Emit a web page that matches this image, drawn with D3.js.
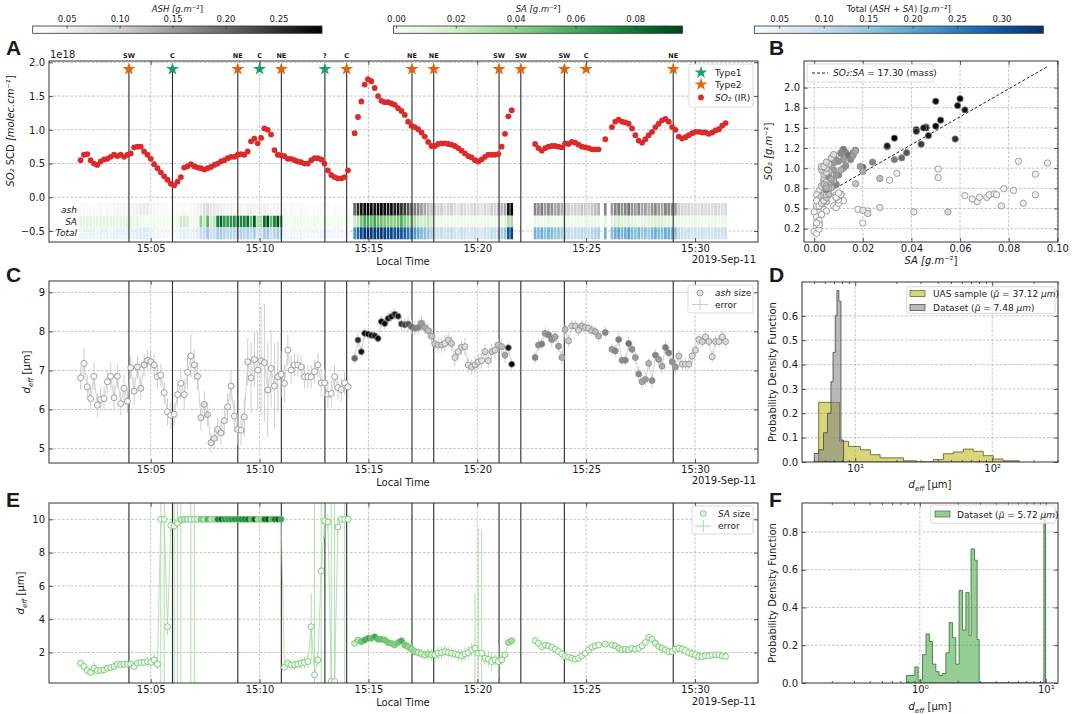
<!DOCTYPE html>
<html><head><meta charset="utf-8">
<script src="https://d3js.org/d3.v7.min.js"></script>
<style>
html,body{margin:0;padding:0;background:#fff;}
svg text{font-family:"DejaVu Sans",sans-serif;fill:#1a1a1a;}
</style></head>
<body>
<svg id="fig" width="1072" height="714" xmlns="http://www.w3.org/2000/svg"></svg>
<script>
// ================= DATA =================
const sampleStartMin = 1.78;    // first sample, minutes after 15:00 local time
const sampleStepMin = 0.1535;   // sampling interval in minutes
const nSamples = 194;
const segStart = [0, 82, 136, 157, 159];   // sample index where each continuous segment begins

// SO2 slant column density (1e18 molec cm-2)
const so2Segs = [
 [0.55,0.63,0.64,0.55,0.50,0.48,0.53,0.56,0.57,0.60,0.63,0.61,0.63,0.60,0.63,0.65,0.74,0.75,0.75,0.68,
  0.63,0.57,0.49,0.43,0.37,0.31,0.26,0.20,0.18,0.23,0.30,0.44,0.46,0.49,0.46,0.44,0.43,0.41,0.43,0.45,
  0.48,0.50,0.53,0.55,0.58,0.60,0.60,0.63,0.64,0.63,0.68,0.83,0.87,0.80,0.88,1.02,1.00,0.93,0.70,0.63,
  0.62,0.61,0.57,0.57,0.55,0.53,0.52,0.50,0.50,0.55,0.58,0.58,0.56,0.50,0.40,0.33,0.30,0.28,0.28,0.30,0.40],
 [0.95,1.19,1.42,1.67,1.75,1.72,1.62,1.50,1.43,1.41,1.41,1.39,1.37,1.32,1.28,1.22,1.12,1.06,1.04,1.01,
  0.96,0.90,0.82,0.76,0.76,0.79,0.80,0.80,0.79,0.78,0.76,0.73,0.69,0.65,0.61,0.59,0.55,0.53,0.56,0.60,
  0.63,0.63,0.63,0.64,0.75,0.94,1.20,1.29],
 [0.79,0.73,0.69,0.73,0.75,0.76,0.76,0.75,0.74,0.80,0.79,0.82,0.81,0.78,0.75,0.74,0.73,0.71,0.71,0.71],
 [0.86],
 [1.04,1.12,1.15,1.12,1.11,1.09,1.02,0.92,0.84,0.81,0.86,0.92,0.97,1.04,1.09,1.14,1.16,1.12,1.04,1.00,
  0.90,0.87,0.89,0.92,0.95,0.97,0.97,0.96,0.96,0.94,0.96,0.99,1.01,1.06,1.10]
];
// ash mass load (g m-2)
const ashLoadSegs = [
 [0.030,0.035,0.030,0.028,0.032,0.030,0.035,0.030,0.033,0.030,0.035,0.040,0.035,0.040,0.035,0.040,0.045,0.050,0.060,0.065,
  0.060,0.050,0.040,0.035,0.030,0.030,0.028,0.025,0.025,0.030,0.030,0.035,0.030,0.035,0.040,0.045,0.060,0.075,0.085,0.070,
  0.065,0.060,0.055,0.050,0.045,0.050,0.040,0.045,0.050,0.040,0.045,0.050,0.045,0.040,0.050,0.050,0.045,0.040,0.040,0.045,
  0.040,0.035,0.030,0.035,0.030,0.030,0.035,0.030,0.030,0.025,0.030,0.030,0.035,0.030,0.030,0.025,0.030,0.030,0.030,0.025,0.030],
 [0.20,0.25,0.27,0.28,0.29,0.28,0.27,0.28,0.29,0.28,0.27,0.28,0.26,0.27,0.25,0.24,0.22,0.20,0.18,0.17,
  0.15,0.14,0.12,0.11,0.10,0.09,0.10,0.08,0.09,0.10,0.08,0.07,0.09,0.08,0.07,0.08,0.09,0.08,0.07,0.09,
  0.08,0.10,0.09,0.11,0.12,0.14,0.27,0.29],
 [0.17,0.16,0.18,0.15,0.17,0.16,0.14,0.15,0.13,0.12,0.10,0.09,0.10,0.09,0.11,0.10,0.09,0.11,0.12,0.13],
 [0.17],
 [0.15,0.17,0.18,0.16,0.17,0.19,0.16,0.15,0.17,0.14,0.15,0.13,0.16,0.17,0.15,0.14,0.18,0.17,0.16,0.15,
  0.10,0.09,0.085,0.09,0.08,0.085,0.08,0.09,0.08,0.085,0.08,0.09,0.085,0.08,0.085]
];
// sulphate aerosol (SA) mass load (g m-2)
const saLoadSegs = [
 [0.010,0.009,0.011,0.010,0.008,0.009,0.010,0.012,0.010,0.009,0.011,0.010,0.010,0.009,0.011,0.010,0.008,0.009,0.004,0.002,
  0.001,0.002,0.001,0.000,0.001,0.002,0.001,0.000,0.001,0.002,0.020,0.022,0.018,0.003,0.004,0.005,0.041,0.022,0.055,0.020,
  0.027,0.077,0.086,0.067,0.065,0.068,0.071,0.072,0.074,0.075,0.082,0.051,0.091,0.031,0.034,0.084,0.096,0.051,0.078,0.091,
  0.062,0.004,0.003,0.002,0.003,0.002,0.003,0.002,0.001,0.002,0.003,0.002,0.001,0.002,0.003,0.002,0.001,0.002,0.002,0.001,0.003],
 [0.020,0.030,0.046,0.059,0.060,0.050,0.062,0.052,0.050,0.046,0.045,0.042,0.042,0.047,0.058,0.044,0.038,0.036,0.033,0.024,
  0.019,0.020,0.027,0.017,0.008,0.006,0.005,0.004,0.006,0.005,0.004,0.003,0.005,0.004,0.003,0.004,0.005,0.003,0.004,0.005,
  0.006,0.004,0.005,0.006,0.008,0.012,0.030,0.033],
 [0.008,0.006,0.005,0.007,0.009,0.006,0.005,0.004,0.006,0.008,0.005,0.004,0.006,0.005,0.004,0.006,0.005,0.007,0.006,0.005],
 [0.010],
 [0.012,0.016,0.017,0.013,0.011,0.014,0.010,0.008,0.006,0.007,0.009,0.011,0.013,0.015,0.016,0.017,0.012,0.011,0.009,0.008,
  0.006,0.004,0.005,0.003,0.004,0.006,0.005,0.004,0.003,0.005,0.004,0.006,0.005,0.007,0.008]
];
// ash effective diameter (um) and its error
const ashSizeSegs = [
 [6.81,7.18,6.58,6.28,6.85,6.11,6.26,6.28,6.71,6.85,6.30,6.85,6.15,6.54,6.21,7.07,6.47,7.09,6.54,7.14,
  7.26,7.22,7.14,6.84,6.88,6.43,5.94,5.85,5.88,6.38,6.67,6.38,6.95,7.37,7.14,6.85,5.79,6.13,5.87,5.15,
  5.26,5.49,5.40,5.71,6.07,6.60,5.83,5.49,5.47,5.81,7.22,6.81,7.28,7.01,7.25,7.20,6.50,7.05,6.60,6.84,
  6.90,6.67,7.52,7.01,7.14,7.14,7.09,6.84,6.84,6.84,6.97,7.14,6.68,6.68,6.39,6.41,6.84,6.56,6.51,6.68,6.58],
 [7.31,7.78,7.48,7.95,7.93,7.90,7.89,7.82,8.25,8.20,8.33,8.38,8.44,8.39,8.19,8.17,8.19,8.12,8.08,8.10,
  8.21,8.10,8.02,7.88,7.68,7.65,7.65,7.69,7.78,7.69,7.33,7.48,7.59,7.61,7.14,7.09,7.14,7.22,7.25,7.48,
  7.25,7.48,7.52,7.65,7.61,7.39,7.58,7.16],
 [7.33,7.65,7.68,7.95,7.91,7.79,7.86,7.62,7.33,8.05,7.76,8.14,8.14,8.03,8.14,8.10,8.08,8.02,7.99,7.88],
 [7.97],
 [7.54,7.50,7.79,7.26,7.26,7.69,7.54,7.33,6.91,6.71,6.77,7.18,6.74,7.39,7.28,7.11,7.59,7.45,7.22,7.09,
  7.37,7.16,7.16,7.16,7.37,7.52,7.79,7.74,7.86,7.74,7.35,7.74,7.74,7.86,7.74]
];
const ashErrSegs = [
 [0.30,0.40,0.30,0.30,0.35,0.30,0.30,0.30,0.30,0.35,0.35,0.30,0.30,0.35,0.30,0.30,0.35,0.30,0.30,0.30,
  0.25,0.25,0.30,0.30,0.30,0.30,0.35,0.35,0.30,0.30,0.40,0.40,0.45,0.55,0.40,0.35,0.35,0.35,0.30,0.25,
  0.25,0.30,0.30,0.35,0.35,0.40,0.40,0.40,0.40,0.50,0.60,0.90,0.70,1.00,1.40,1.50,1.20,1.00,1.10,0.90,
  0.60,0.50,0.40,0.35,0.30,0.30,0.30,0.30,0.30,0.30,0.30,0.30,0.35,0.35,0.35,0.35,0.30,0.30,0.30,0.30,0.30],
 [0.15,0.18,0.15,0.15,0.12,0.12,0.12,0.12,0.15,0.15,0.15,0.15,0.15,0.15,0.18,0.18,0.20,0.18,0.18,0.20,
  0.20,0.18,0.20,0.20,0.22,0.20,0.20,0.22,0.20,0.20,0.22,0.20,0.20,0.22,0.20,0.20,0.22,0.20,0.20,0.20,
  0.18,0.20,0.20,0.18,0.20,0.20,0.15,0.15],
 [0.15,0.15,0.15,0.15,0.15,0.18,0.15,0.15,0.18,0.15,0.15,0.15,0.15,0.15,0.15,0.15,0.15,0.15,0.15,0.15],
 [0.15],
 [0.15,0.15,0.18,0.15,0.15,0.18,0.15,0.15,0.18,0.18,0.18,0.15,0.18,0.15,0.15,0.18,0.15,0.15,0.15,0.18,
  0.15,0.15,0.15,0.15,0.18,0.15,0.15,0.15,0.18,0.15,0.15,0.15,0.15,0.15,0.15]
];
// SA effective diameter (um) and its error
const saSizeSegs = [
 [1.36,1.16,0.92,0.80,1.06,0.92,0.92,0.96,1.06,1.10,1.16,1.30,1.26,1.30,1.30,1.30,1.16,1.36,1.40,1.40,
  1.46,1.42,1.56,1.30,10.0,10.0,3.55,9.64,9.60,9.78,9.98,10.0,10.0,10.0,10.0,10.0,10.0,10.0,10.0,10.0,
  10.0,10.0,10.0,10.0,10.0,10.0,10.0,10.0,10.0,10.0,10.0,10.0,10.0,10.0,10.0,10.0,10.0,10.0,10.0,10.0,
  10.0,1.12,1.36,1.26,1.26,1.30,1.36,1.40,1.46,3.55,0.66,1.56,6.90,9.90,9.84,0.26,0.26,9.54,10.0,10.0,10.0],
 [2.55,2.75,2.65,2.75,2.85,2.85,2.95,2.79,2.79,2.75,2.60,2.55,2.45,2.60,2.71,2.45,2.35,2.20,2.06,2.00,
  1.92,1.86,1.92,1.86,1.86,1.96,2.00,2.06,2.00,1.96,1.92,1.86,1.80,1.92,2.00,2.16,2.26,1.96,1.96,1.66,
  1.60,1.46,1.56,1.46,1.56,1.86,2.60,2.71],
 [2.71,2.55,2.35,2.45,2.40,2.32,2.20,2.06,1.92,1.76,1.72,1.66,1.60,1.66,1.80,1.96,2.16,2.32,2.40,2.45],
 [2.50],
 [2.45,2.40,2.26,2.16,2.20,2.16,2.26,2.20,2.26,2.40,2.60,2.91,2.79,2.55,2.35,2.26,2.16,2.06,2.06,2.20,
  2.26,2.20,2.12,2.00,1.92,1.86,1.76,1.76,1.80,1.80,1.86,1.86,1.86,1.80,1.76]
];
const saErrSegs = [
 [0.15,0.15,0.12,0.12,0.40,0.12,0.12,0.12,0.12,0.12,0.12,0.12,0.12,0.12,0.12,0.15,0.15,0.15,0.20,0.20,
  0.30,0.30,0.35,0.30,20,20,0.50,0.30,20,20,20,0.20,0.20,20,20,0.05,0.05,0.05,0.05,0.05,
  0.05,0.05,0.05,0.05,0.05,0.05,0.05,0.05,0.05,0.05,0.05,0.05,0.05,0.05,0.05,0.05,0.05,0.05,0.05,0.05,
  0.05,0.20,0.25,0.25,0.30,0.30,0.35,0.35,0.40,2.00,20,0.40,20,1.00,0.50,20,20,0.50,0.10,20,0.10],
 [0.10,0.10,0.10,0.10,0.10,0.10,0.10,0.10,0.10,0.10,0.10,0.10,0.10,0.10,0.10,0.25,0.30,0.30,0.30,0.30,
  0.30,0.30,0.35,0.35,0.35,0.40,0.40,0.35,0.35,0.30,0.30,0.35,0.35,0.40,0.40,0.40,3.30,7.50,7.40,0.40,
  0.50,0.60,0.40,1.00,0.30,0.20,0.10,0.10],
 [0.10,0.10,0.10,0.10,0.10,0.10,0.10,0.10,0.10,0.10,0.10,0.10,0.10,0.10,0.10,0.10,0.10,0.10,0.10,0.10],
 [0.10],
 [0.10,0.10,0.10,0.10,0.10,0.10,0.10,0.10,0.10,0.10,0.10,0.10,0.10,0.10,0.10,0.10,0.10,0.10,0.10,0.30,
  0.30,0.30,0.30,0.30,0.30,0.30,0.30,0.15,0.15,0.15,0.15,0.15,0.15,0.15,0.15]
];

// events (minutes after 15:00)
const eventMin = [4,6,9,10,11,13,14,17,18,21,22,24,25,29];
const eventLabel = ["SW","C","NE","C","NE","?","C","NE","NE","SW","SW","SW","C","NE"];
const eventType = [2,1,2,1,2,1,2,2,2,2,2,2,2,2];
const eventHasLine = [1,1,1,0,1,1,1,1,1,1,1,1,0,1];
const eventStarLevel = 1.9;

const timeTicks = [5,10,15,20,25,30];
const timeTickLabels = ["15:05","15:10","15:15","15:20","15:25","15:30"];

// scatter B
const so2MassPerSCD = 1.0639;   // g m-2 per 1e18 molec cm-2 of SO2
const fitSlope = 17.30, fitIntercept = 0.60;
const bXTicks = [0,0.02,0.04,0.06,0.08,0.10];
const bXTickLabels = ["0.00","0.02","0.04","0.06","0.08","0.10"];
const bYTicks = [0.25,0.5,0.75,1.0,1.25,1.5,1.75,2.0];
const bYTickLabels = ["0.2","0.5","0.8","1.0","1.2","1.5","1.8","2.0"];

// histograms D
const uasEdges = [5.41,7.69,8.94,10.9,12.9,15.2,22.5,28.1,37.1,44.0,52.0,61.5,72.8,86.0,101.6,120,158];
const uasPdf   = [0.245,0.085,0.064,0.050,0.030,0.017,0.005,0,0.010,0.034,0.041,0.053,0.044,0.026,0.012,0.005];
const ashDsEdges = [5.03,5.41,5.87,6.28,6.65,6.89,7.15,7.36,7.60,7.87,8.22];
const ashDsPdf   = [0.035,0.05,0.12,0.20,0.33,0.45,0.60,0.704,0.66,0.09];
// histogram F
const saDsEdges = [0.784,0.912,0.970,1.05,1.12,1.19,1.26,1.34,1.42,1.51,1.61,1.71,1.82,1.93,2.05,2.18,2.32,2.46,2.55,2.72,2.85,2.96,9.65,9.95];
const saDsPdf   = [0.04,0.085,0.015,0.15,0.26,0.22,0.10,0.06,0.04,0.05,0.16,0.32,0.24,0.10,0.49,0.28,0.48,0.25,0.71,0.65,0.23,0,0.907];

// colour bars
const ashCbTicks = [0.05,0.10,0.15,0.20,0.25];
const saCbTicks = [0.00,0.02,0.04,0.06,0.08];
const totCbTicks = [0.05,0.10,0.15,0.20,0.25,0.30];
const ashDom = [0.018,0.291], saDom = [-0.0008,0.0958], totDom = [0.022,0.347];

// ================= BUILD =================
const svg = d3.select("#fig");
const defs = svg.append("defs");
const expand = segs => { const a = new Array(nSamples).fill(null); segs.forEach((s,k)=>s.forEach((v,j)=>{a[segStart[k]+j]=v;})); return a; };
const so2 = expand(so2Segs), ashLoad = expand(ashLoadSegs), saLoad = expand(saLoadSegs);
const ashSize = expand(ashSizeSegs), ashErr = expand(ashErrSegs), saSize = expand(saSizeSegs), saErr = expand(saErrSegs);
const tMin = d3.range(nSamples).map(i => sampleStartMin + i*sampleStepMin);
const idx = d3.range(nSamples).filter(i => so2[i] != null);

const cAsh = d3.scaleSequential(d3.interpolateGreys).domain(ashDom).clamp(true);
const cSA = d3.scaleSequential(d3.interpolateGreens).domain(saDom).clamp(true);
const cTot = d3.scaleSequential(d3.interpolateBlues).domain(totDom).clamp(true);

const PA={l:49,r:758,t:61,b:242}, PB={l:804,r:1058,t:61,b:242}, PC={l:49,r:758,t:281,b:463},
      PD={l:802,r:1058,t:282,b:462}, PE={l:49,r:758,t:503,b:683}, PF={l:802,r:1058,t:503,b:683};
const xT = d3.scaleLinear().domain([0.328,32.894]).range([PA.l,PA.r]);
const yA = d3.scaleLinear().domain([-0.663,2.02]).range([PA.b,PA.t]);
const xB = d3.scaleLinear().domain([-0.0042,0.1003]).range([PB.l,PB.r]);
const yB = d3.scaleLinear().domain([0.084,2.33]).range([PB.b,PB.t]);
const yC = d3.scaleLinear().domain([4.63,9.29]).range([PC.b,PC.t]);
const xD = d3.scaleLog().domain([4.09,302]).range([PD.l,PD.r]);
const yD = d3.scaleLinear().domain([0,0.739]).range([PD.b,PD.t]);
const yE = d3.scaleLinear().domain([0.17,10.98]).range([PE.b,PE.t]);
const xF = d3.scaleLog().domain([0.116,12.5]).range([PF.l,PF.r]);
const yF = d3.scaleLinear().domain([0,0.953]).range([PF.b,PF.t]);

function clip(id, P){ defs.append("clipPath").attr("id",id).append("rect").attr("x",P.l).attr("y",P.t).attr("width",P.r-P.l).attr("height",P.b-P.t); }
clip("cA",PA); clip("cB",PB); clip("cC",PC); clip("cD",PD); clip("cE",PE); clip("cF",PF);

function grid(P, xs, xt, ys, yt){
  const g = svg.append("g").attr("stroke","#b4b4b4").attr("stroke-width",0.8).attr("stroke-dasharray","2.6,1.7");
  xt.forEach(v=>g.append("line").attr("x1",xs(v)).attr("x2",xs(v)).attr("y1",P.t).attr("y2",P.b));
  yt.forEach(v=>g.append("line").attr("y1",ys(v)).attr("y2",ys(v)).attr("x1",P.l).attr("x2",P.r));
}
function styleAxis(a){ a.select(".domain").remove(); a.selectAll("line").attr("stroke","#333").attr("stroke-width",0.8);
  a.selectAll("text").attr("font-size",10).attr("fill","#1a1a1a").attr("font-family","DejaVu Sans"); return a; }
function frame(P, xs, xt, xl, ys, yt, yl, minorX){
  const g = svg.append("g");
  styleAxis(g.append("g").attr("transform",`translate(0,${P.b})`).call(d3.axisBottom(xs).tickValues(xt).tickFormat((d,i)=>xl?xl[i]:"").tickSize(-4).tickPadding(3)));
  styleAxis(g.append("g").attr("transform",`translate(0,${P.t})`).call(d3.axisTop(xs).tickValues(xt).tickFormat("").tickSize(-4)));
  styleAxis(g.append("g").attr("transform",`translate(${P.l},0)`).call(d3.axisLeft(ys).tickValues(yt).tickFormat((d,i)=>yl[i]).tickSize(-4).tickPadding(4)));
  styleAxis(g.append("g").attr("transform",`translate(${P.r},0)`).call(d3.axisRight(ys).tickValues(yt).tickFormat("").tickSize(-4)));
  if (minorX){
    styleAxis(g.append("g").attr("transform",`translate(0,${P.b})`).call(d3.axisBottom(xs).tickValues(minorX).tickFormat("").tickSize(-2)));
    styleAxis(g.append("g").attr("transform",`translate(0,${P.t})`).call(d3.axisTop(xs).tickValues(minorX).tickFormat("").tickSize(-2)));
  }
  g.append("rect").attr("x",P.l).attr("y",P.t).attr("width",P.r-P.l).attr("height",P.b-P.t)
    .attr("fill","none").attr("stroke","#333").attr("stroke-width",1);
}
// rich text: parts = [[text, flags]]; flags is a space separated list of: it, bold, sub, back
function rich(x, y, parts, o={}){
  const fs = o.fs||10;
  const t = svg.append("text").attr("x",x).attr("y",y).attr("font-size",fs)
     .attr("text-anchor",o.anchor||"start");
  if (o.rot) t.attr("transform",`rotate(${o.rot},${x},${y})`);
  parts.forEach(([s,f=""])=>{
    const fl = f.split(" ");
    const sp = t.append("tspan").text(s);
    if (fl.includes("it")) sp.attr("font-style","italic");
    if (fl.includes("bold")) sp.attr("font-weight","bold");
    if (fl.includes("sub")) sp.attr("font-size",fs*0.7).attr("dy",fs*0.25);
    if (fl.includes("back")) sp.attr("dy",-fs*0.25);
  });
  return t;
}
function legendBox(x,y,w,h){ svg.append("rect").attr("x",x).attr("y",y).attr("width",w).attr("height",h).attr("rx",2)
  .attr("fill","#fff").attr("fill-opacity",0.8).attr("stroke","#d0d0d0").attr("stroke-width",0.8); }

// ---------- colour bars ----------
function colorbar(id, x0, x1, interp, dom, ticks, titleParts){
  const y0 = 26, y1 = 33.3;
  const gr = defs.append("linearGradient").attr("id",id);
  d3.range(21).forEach(k=>gr.append("stop").attr("offset",k/20).attr("stop-color",interp(k/20)));
  svg.append("rect").attr("x",x0).attr("y",y0).attr("width",x1-x0).attr("height",y1-y0).attr("fill",`url(#${id})`)
    .attr("stroke","#333").attr("stroke-width",0.8);
  const s = d3.scaleLinear().domain(dom).range([x0,x1]);
  const a = svg.append("g").attr("transform",`translate(0,${y0})`).call(d3.axisTop(s).tickValues(ticks).tickFormat(d3.format(".2f")).tickSize(-2.5).tickPadding(4.5));
  a.select(".domain").remove(); a.selectAll("line").attr("stroke","#333").attr("stroke-width",0.8);
  a.selectAll("text").attr("font-size",8.5).attr("font-family","DejaVu Sans").attr("fill","#1a1a1a");
  rich((x0+x1)/2, 12, titleParts, {fs:8.5, anchor:"middle"});
}
colorbar("gAsh", 32.7, 322.0, d3.interpolateGreys, ashDom, ashCbTicks, [["ASH [","it"],["g.m","it"],["⁻²]",""]]);
colorbar("gSA", 393.6, 682.5, d3.interpolateGreens, saDom, saCbTicks, [["SA [","it"],["g.m","it"],["⁻²]",""]]);
colorbar("gTot", 754.3, 1043.3, d3.interpolateBlues, totDom, totCbTicks, [["Total (",""],["ASH + SA","it"],[") [",""],["g.m","it"],["⁻²]",""]]);

// ---------- panel A ----------
grid(PA, xT, timeTicks, yA, [-0.5,0,0.5,1,1.5,2]);
const stripRows = [[-0.085,-0.273],[-0.273,-0.445],[-0.445,-0.623]];
const stripW = 2.7;
const gS = svg.append("g").attr("clip-path","url(#cA)");
const stripDefs = [[ashLoad, cAsh],[saLoad, cSA],[d3.range(nSamples).map(i=>ashLoad[i]==null?null:ashLoad[i]+saLoad[i]), cTot]];
stripDefs.forEach(([arr,cs],r)=>{
  gS.append("g").selectAll("rect").data(idx).join("rect")
    .attr("x",i=>xT(tMin[i])-stripW/2).attr("width",stripW)
    .attr("y",yA(stripRows[r][0])).attr("height",yA(stripRows[r][1])-yA(stripRows[r][0]))
    .attr("fill",i=>cs(arr[i]));
});
["ash","SA","Total"].forEach((s,r)=>{
  svg.append("text").attr("x",77).attr("y",(yA(stripRows[r][0])+yA(stripRows[r][1]))/2+3.2)
   .attr("text-anchor","end").attr("font-size",9).attr("font-style","italic").text(s);
});
const evIdx = d3.range(eventMin.length);
svg.append("g").selectAll("line").data(evIdx.filter(k=>eventHasLine[k])).join("line")
  .attr("x1",k=>xT(eventMin[k])).attr("x2",k=>xT(eventMin[k])).attr("y1",yA(eventStarLevel)).attr("y2",PA.b)
  .attr("stroke","#2a2a2a").attr("stroke-width",1.1);
svg.append("g").selectAll("circle").data(idx).join("circle")
  .attr("cx",i=>xT(tMin[i])).attr("cy",i=>yA(so2[i])).attr("r",2.9).attr("fill","#dc2a2a");
const starColor = {1:"#1b9e77", 2:"#e0650f"};
const star = d3.symbol().type(d3.symbolStar).size(52);
svg.append("g").selectAll("path").data(evIdx).join("path")
  .attr("d",star).attr("transform",k=>`translate(${xT(eventMin[k])},${yA(eventStarLevel)})`)
  .attr("fill",k=>starColor[eventType[k]]);
svg.append("g").selectAll("text").data(evIdx).join("text")
  .attr("x",k=>xT(eventMin[k])).attr("y",57.5).attr("text-anchor","middle").attr("font-size",6.5).attr("font-weight","bold")
  .text(k=>eventLabel[k]);
frame(PA, xT, timeTicks, timeTickLabels, yA, [-0.5,0,0.5,1,1.5,2], ["−0.5","0.0","0.5","1.0","1.5","2.0"]);
svg.append("text").attr("x",50).attr("y",57.5).attr("font-size",10).text("1e18");
rich(14, 131, [["SO₂","it"],[" SCD ",""],["[molec.cm","it"],["⁻²]",""]], {fs:10, anchor:"middle", rot:-90});
svg.append("text").attr("x",403).attr("y",265).attr("text-anchor","middle").attr("font-size",10).text("Local Time");
svg.append("text").attr("x",756).attr("y",263).attr("text-anchor","end").attr("font-size",10).text("2019-Sep-11");
legendBox(689,64,64,43);
svg.append("path").attr("d",star).attr("transform","translate(701,72.5)").attr("fill",starColor[1]);
svg.append("path").attr("d",star).attr("transform","translate(701,84.5)").attr("fill",starColor[2]);
svg.append("circle").attr("cx",701).attr("cy",97.5).attr("r",2.9).attr("fill","#dc2a2a");
rich(715,75.5,[["Type1",""]],{fs:9}); rich(715,87.5,[["Type2",""]],{fs:9});
rich(715,100.5,[["SO₂","it"],[" (IR)",""]],{fs:9});

// ---------- panel B ----------
grid(PB, xB, bXTicks, yB, bYTicks);
const saMax = d3.max(idx,i=>saLoad[i]);
svg.append("line").attr("x1",xB(0)).attr("x2",xB(saMax))
  .attr("y1",yB(fitIntercept)).attr("y2",yB(fitIntercept+fitSlope*saMax))
  .attr("stroke","#222").attr("stroke-width",1).attr("stroke-dasharray","3,2");
svg.append("g").attr("clip-path","url(#cB)").selectAll("circle").data(idx).join("circle")
  .attr("cx",i=>xB(saLoad[i])).attr("cy",i=>yB(so2[i]*so2MassPerSCD)).attr("r",3.2)
  .attr("fill",i=>cAsh(ashLoad[i])).attr("stroke","#8a8a8a").attr("stroke-width",0.8);
frame(PB, xB, bXTicks, bXTickLabels, yB, bYTicks, bYTickLabels);
legendBox(807,64,126,18);
svg.append("line").attr("x1",812).attr("x2",828).attr("y1",73).attr("y2",73).attr("stroke","#222").attr("stroke-dasharray","3,2");
rich(833,76,[["SO₂:SA","it"],[" = 17.30 (mass)",""]],{fs:9});
rich(772,151.5,[["SO₂ [","it"],["g.m","it"],["⁻²]",""]],{fs:10,anchor:"middle",rot:-90});
rich(931,264,[["SA [","it"],["g.m","it"],["⁻²]",""]],{fs:10,anchor:"middle"});

// ---------- panel C ----------
grid(PC, xT, timeTicks, yC, [5,6,7,8,9]);
function timeSeriesPanel(P, ys, sizes, errs, fillScale, loads, lineCol, edgeCol, clipId){
  svg.append("g").selectAll("line").data(evIdx.filter(k=>eventHasLine[k])).join("line")
    .attr("x1",k=>xT(eventMin[k])).attr("x2",k=>xT(eventMin[k])).attr("y1",P.t).attr("y2",P.b)
    .attr("stroke","#2a2a2a").attr("stroke-width",1.1);
  const g = svg.append("g").attr("clip-path",`url(#${clipId})`);
  g.append("g").selectAll("line").data(idx).join("line")
    .attr("x1",i=>xT(tMin[i])).attr("x2",i=>xT(tMin[i]))
    .attr("y1",i=>ys(sizes[i]-errs[i])).attr("y2",i=>ys(sizes[i]+errs[i]))
    .attr("stroke",lineCol).attr("stroke-width",0.9);
  g.append("path").datum(d3.range(nSamples)).attr("fill","none").attr("stroke",lineCol).attr("stroke-width",0.8)
    .attr("d",d3.line().defined(i=>sizes[i]!=null).x(i=>xT(tMin[i])).y(i=>ys(sizes[i])));
  g.append("g").selectAll("circle").data(idx).join("circle")
    .attr("cx",i=>xT(tMin[i])).attr("cy",i=>ys(sizes[i])).attr("r",3.0)
    .attr("fill",i=>fillScale(loads[i])).attr("stroke",edgeCol).attr("stroke-width",0.8);
}
timeSeriesPanel(PC, yC, ashSize, ashErr, cAsh, ashLoad, "#c8c8c8", "#8c8c8c", "cC");
frame(PC, xT, timeTicks, timeTickLabels, yC, [5,6,7,8,9], ["5","6","7","8","9"]);
const deffParts = [["d","it"],["eff","it sub"],[" [","back"],["μm",""],["]",""]];
rich(30,372,deffParts,{fs:10,anchor:"middle",rot:-90});
svg.append("text").attr("x",403).attr("y",486).attr("text-anchor","middle").attr("font-size",10).text("Local Time");
svg.append("text").attr("x",756).attr("y",484).attr("text-anchor","end").attr("font-size",10).text("2019-Sep-11");
legendBox(688,285,65,28);
svg.append("circle").attr("cx",700).attr("cy",293).attr("r",3).attr("fill","#e0e0e0").attr("stroke","#8c8c8c").attr("stroke-width",0.8);
svg.append("line").attr("x1",692).attr("x2",708).attr("y1",304.5).attr("y2",304.5).attr("stroke","#c8c8c8");
svg.append("line").attr("x1",700).attr("x2",700).attr("y1",298.5).attr("y2",310.5).attr("stroke","#c8c8c8");
rich(715,296,[["ash","it"],[" size",""]],{fs:9}); rich(715,307.5,[["error",""]],{fs:9});

// ---------- panel D ----------
const dMinor = [5,6,7,8,9,20,30,40,50,60,70,80,90,200,300];
grid(PD, xD, [10,100], yD, [0.1,0.2,0.3,0.4,0.5,0.6]);
function stepPath(edges, h, xs, ys){
  let p = `M${xs(edges[0])},${ys(0)}`;
  h.forEach((v,k)=>{ p += `L${xs(edges[k])},${ys(v)}L${xs(edges[k+1])},${ys(v)}`; });
  return p + `L${xs(edges[edges.length-1])},${ys(0)}Z`;
}
const gD = svg.append("g").attr("clip-path","url(#cD)");
gD.append("path").attr("d",stepPath(uasEdges,uasPdf,xD,yD)).attr("fill","#bcbd22").attr("fill-opacity",0.6).attr("stroke","#5a5a20").attr("stroke-width",0.8);
gD.append("path").attr("d",stepPath(ashDsEdges,ashDsPdf,xD,yD)).attr("fill","#7f7f7f").attr("fill-opacity",0.55).attr("stroke","#444").attr("stroke-width",0.8);
frame(PD, xD, [10,100], ["10¹","10²"], yD, [0,0.1,0.2,0.3,0.4,0.5,0.6], ["0.0","0.1","0.2","0.3","0.4","0.5","0.6"], dMinor);
rich(776,372,[["Probability Density Function",""]],{fs:10,anchor:"middle",rot:-90});
rich(930,488,deffParts,{fs:10,anchor:"middle"});
legendBox(906.7,286.7,148.3,26.6);
svg.append("rect").attr("x",910).attr("y",290.5).attr("width",15).attr("height",6).attr("fill","#bcbd22").attr("fill-opacity",0.6).attr("stroke","#5a5a20").attr("stroke-width",0.7);
svg.append("rect").attr("x",910).attr("y",304.5).attr("width",15).attr("height",6).attr("fill","#7f7f7f").attr("fill-opacity",0.55).attr("stroke","#444").attr("stroke-width",0.7);
rich(933,297,[["UAS sample (",""],["μ̃","it"],[" = 37.12 ",""],["μm","it"],[")",""]],{fs:9});
rich(933,311,[["Dataset (",""],["μ̃","it"],[" = 7.48 ",""],["μm","it"],[")",""]],{fs:9});

// ---------- panel E ----------
grid(PE, xT, timeTicks, yE, [2,4,6,8,10]);
timeSeriesPanel(PE, yE, saSize, saErr, cSA, saLoad, "#a6dba0", "#6cc06c", "cE");
frame(PE, xT, timeTicks, timeTickLabels, yE, [2,4,6,8,10], ["2","4","6","8","10"]);
rich(24,593,deffParts,{fs:10,anchor:"middle",rot:-90});
svg.append("text").attr("x",403).attr("y",706).attr("text-anchor","middle").attr("font-size",10).text("Local Time");
svg.append("text").attr("x",756).attr("y",704.5).attr("text-anchor","end").attr("font-size",10).text("2019-Sep-11");
legendBox(692,506,61,28);
svg.append("circle").attr("cx",703.3).attr("cy",513.5).attr("r",3).attr("fill","#e5f5e0").attr("stroke","#6cc06c").attr("stroke-width",0.8);
svg.append("line").attr("x1",695).attr("x2",711).attr("y1",526).attr("y2",526).attr("stroke","#a6dba0");
svg.append("line").attr("x1",703.3).attr("x2",703.3).attr("y1",520).attr("y2",532).attr("stroke","#a6dba0");
rich(718,516.5,[["SA","it"],[" size",""]],{fs:9}); rich(718,529,[["error",""]],{fs:9});

// ---------- panel F ----------
const fMinor = [0.2,0.3,0.4,0.5,0.6,0.7,0.8,0.9,2,3,4,5,6,7,8,9];
grid(PF, xF, [1,10], yF, [0.2,0.4,0.6,0.8]);
svg.append("g").attr("clip-path","url(#cF)").append("path").attr("d",stepPath(saDsEdges,saDsPdf,xF,yF))
  .attr("fill","#2ca02c").attr("fill-opacity",0.5).attr("stroke","#2f6f2f").attr("stroke-width",0.8);
frame(PF, xF, [1,10], ["10⁰","10¹"], yF, [0,0.2,0.4,0.6,0.8], ["0.0","0.2","0.4","0.6","0.8"], fMinor);
rich(776,593,[["Probability Density Function",""]],{fs:10,anchor:"middle",rot:-90});
rich(930,710,deffParts,{fs:10,anchor:"middle"});
legendBox(930.7,505,124.3,18.3);
svg.append("rect").attr("x",935).attr("y",511).attr("width",15).attr("height",6).attr("fill","#2ca02c").attr("fill-opacity",0.5).attr("stroke","#2f6f2f").attr("stroke-width",0.7);
rich(957,517.5,[["Dataset (",""],["μ̃","it"],[" = 5.72 ",""],["μm","it"],[")",""]],{fs:9});

// ---------- panel letters ----------
[["A",6,55],["B",769,55],["C",6,282],["D",769,282],["E",6,507],["F",769,507]].forEach(([s,x,y])=>{
  svg.append("text").attr("x",x).attr("y",y).attr("font-size",21).attr("font-weight","bold")
    .style("font-family","'Liberation Sans', Arial, sans-serif").text(s);
});
</script>
</body></html>
